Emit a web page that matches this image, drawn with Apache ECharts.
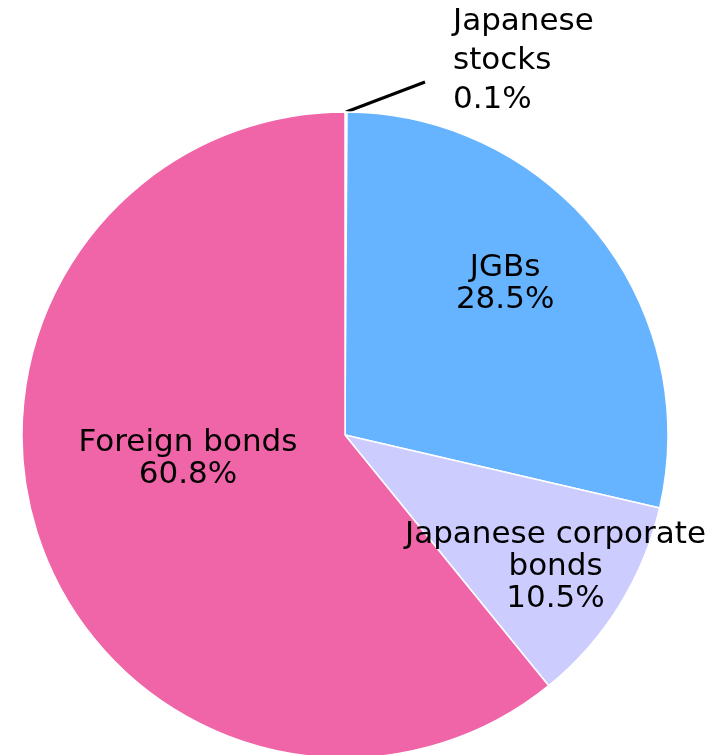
<!DOCTYPE html>
<html>
<head>
<meta charset="utf-8">
<script src="https://cdn.jsdelivr.net/npm/echarts@6/dist/echarts.min.js"></script>
<style>
  html, body { margin: 0; padding: 0; background: #fff; }
  #main { width: 725px; height: 755px; }
</style>
</head>
<body>
<div id="main"></div>
<script>
// asset shares, clockwise from 12 o'clock
const names = ['Japanese\nstocks', 'JGBs', 'Japanese corporate\nbonds', 'Foreign bonds']
const shares = [0.1, 28.5, 10.5, 60.8]
const colors = ['#ffcc99', '#66b3ff', '#ccccff', '#f064a8']

// nudges from the default inside label spot
const nudges = [[0, 0], [31, -49], [71, 45], [-2, -31]]

const chart = echarts.init(document.getElementById('main'))
chart.setOption({
  animation: false,
  series: [
    {
      type: 'pie',
      center: [345, 435],
      radius: 323,
      startAngle: 90,
      clockwise: true,
      avoidLabelOverlap: false,
      itemStyle: {
        borderColor: '#fff',
        borderWidth: 1.5
      },
      label: {
        position: 'inside',
        color: '#000',
        fontFamily: 'DejaVu Sans',
        fontSize: 31,
        lineHeight: 32,
        align: 'center',
        formatter: p => p.name + '\n' + p.value.toFixed(1) + '%'
      },
      labelLine: { show: false },
      labelLayout: function (p) {
        if (p.dataIndex === 0) {
          // straight leader from the slice edge up to the left of the text
          const start = p.labelLinePoints ? p.labelLinePoints[0] : [344, 112]
          const end = [425, 82]
          return {
            x: 453, y: 61, align: 'left', verticalAlign: 'middle',
            labelLinePoints: [start, end, end]
          }
        }
        const n = nudges[p.dataIndex]
        return { dx: n[0], dy: n[1] }
      },
      data: shares.map((v, i) => {
        const d = { name: names[i], value: v, itemStyle: { color: colors[i] } }
        if (i === 0) {
          d.label = { position: 'outside', lineHeight: 39, align: 'left' }
          d.labelLine = {
            show: true,
            length: 20,
            length2: 20,
            lineStyle: { color: '#000', width: 3 }
          }
        }
        return d
      })
    }
  ]
})
</script>
</body>
</html>
